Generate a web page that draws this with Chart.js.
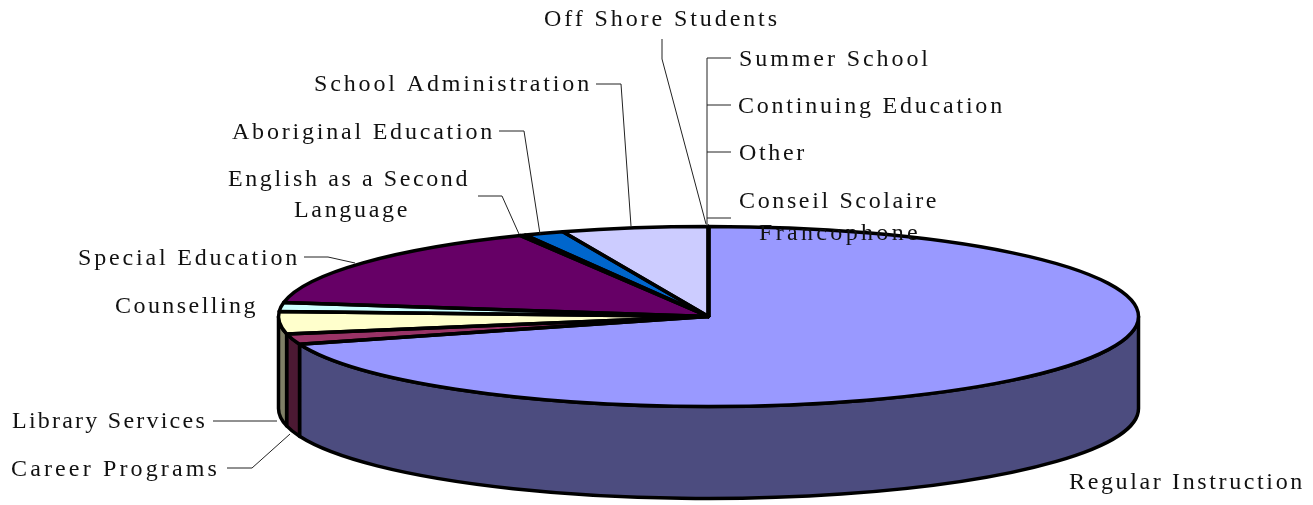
<!DOCTYPE html>
<html lang="en">
<head>
    <meta charset="UTF-8">
    <title>Expenditure by program</title>
    <script src="https://cdn.jsdelivr.net/npm/chart.js"></script>
    <style>
      body { margin: 0; background: #fff; }
      canvas { display: block; }
    </style>
</head>
<body>
    <canvas id="chart" width="1313" height="505"></canvas>
    <script>
    const categories = ['Regular Instruction', 'Career Programs', 'Library Services', 'Counselling',
      'Special Education', 'English as a Second Language', 'Aboriginal Education', 'School Administration',
      'Off Shore Students', 'Summer School', 'Continuing Education', 'Other', 'Conseil Scolaire Francophone'];
    const shares = [70.0, 1.9, 4.0, 1.6, 15.3, 0.2, 1.5, 5.5, 0, 0, 0, 0, 0];
    const topColors = ['#9999FF', '#993366', '#FFFFCC', '#CCFFFF', '#660066', '#FF8080', '#0066CC', '#CCCCFF',
      '#000080', '#FF00FF', '#FFFF00', '#00FFFF', '#800080'];
    const sideColors = ['#4C4C7F', '#4C1933', '#7F7F66', '#667F7F', '#330033', '#7F4040', '#003366', '#66667F',
      '#000040', '#7F007F', '#7F7F00', '#007F7F', '#400040'];

    // where the disc sits on the page
    const disc = { cx: 708.5, cy: 316.5, rx: 430, ry: 90, depth: 92 };

    // label text lines: x, baseline, width
    const labelLines = [
      ['Off Shore Students', 544, 26, 236],
      ['Summer School', 739, 66, 192],
      ['Continuing Education', 738, 113, 267],
      ['Other', 739, 160, 68],
      ['Conseil Scolaire', 739, 208, 200],
      ['Francophone', 759, 240, 162],
      ['School Administration', 314, 91, 278],
      ['Aboriginal Education', 232, 139, 263],
      ['English as a Second', 228, 186, 242],
      ['Language', 294, 217, 116],
      ['Special Education', 78, 265, 222],
      ['Counselling', 115, 313, 143],
      ['Library Services', 12, 428, 195],
      ['Career Programs', 11, 476, 209],
      ['Regular Instruction', 1069, 489, 236]
    ];
    const leaderLines = [
      [[662, 39], [662, 59], [706, 224]],
      [[731, 58], [707, 58], [707, 226]],
      [[731, 105], [707, 105]],
      [[731, 152], [707, 152]],
      [[731, 218], [707, 218]],
      [[596, 84], [621, 84], [631, 226]],
      [[499, 131], [524, 131], [540, 234]],
      [[478, 196], [502, 196], [519, 234]],
      [[304, 257], [328, 257], [355, 263]],
      [[213, 421], [277, 421]],
      [[227, 468], [252, 468], [290, 434]]
    ];

    function squash(ctx, el) {
      ctx.translate(disc.cx, disc.cy);
      ctx.scale(disc.rx / el.outerRadius, disc.ry / el.outerRadius);
      ctx.translate(-el.x, -el.y);
    }

    const disc3d = {
      id: 'disc3d',
      beforeDatasetsDraw(chart) {
        const ctx = chart.ctx;
        const arcs = chart.getDatasetMeta(0).data;

        // the wall, only the front half can be seen
        arcs.forEach((el, i) => {
          const a0 = Math.max(el.startAngle, 0);
          const a1 = Math.min(el.endAngle, Math.PI);
          if (a1 <= a0) return;
          const drop = disc.depth * el.outerRadius / disc.ry;
          ctx.save();
          squash(ctx, el);
          ctx.beginPath();
          ctx.arc(el.x, el.y, el.outerRadius, a0, a1);
          ctx.arc(el.x, el.y + drop, el.outerRadius, a1, a0, true);
          ctx.closePath();
          ctx.fillStyle = sideColors[i];
          ctx.fill();
          ctx.restore();
          ctx.strokeStyle = '#000';
          ctx.lineWidth = 3.5;
          ctx.lineJoin = 'round';
          ctx.stroke();
        });

        // the library draws the top of the disc inside this transform
        ctx.save();
        squash(ctx, arcs[0]);
      },
      afterDatasetsDraw(chart) {
        const ctx = chart.ctx;
        ctx.restore();

        // outlines stay even because they are stroked after the transform is gone
        chart.getDatasetMeta(0).data.forEach(el => {
          ctx.save();
          squash(ctx, el);
          ctx.beginPath();
          ctx.moveTo(el.x, el.y);
          ctx.arc(el.x, el.y, el.outerRadius, el.startAngle, el.endAngle);
          ctx.closePath();
          ctx.restore();
          ctx.strokeStyle = '#000';
          ctx.lineWidth = 3.5;
          ctx.lineJoin = 'round';
          ctx.stroke();
        });

        ctx.save();
        ctx.strokeStyle = '#222';
        ctx.lineWidth = 1;
        leaderLines.forEach(pts => {
          ctx.beginPath();
          pts.forEach((p, i) => i ? ctx.lineTo(p[0], p[1]) : ctx.moveTo(p[0], p[1]));
          ctx.stroke();
        });

        ctx.fillStyle = '#111';
        ctx.textBaseline = 'alphabetic';
        ctx.font = '24px "Liberation Serif"';
        labelLines.forEach(([text, x, y, w]) => {
          ctx.letterSpacing = '0px';
          const extra = (w - ctx.measureText(text).width) / text.length;
          ctx.letterSpacing = extra.toFixed(2) + 'px';
          ctx.fillText(text, x, y);
        });
        ctx.restore();
      }
    };

    new Chart(document.getElementById('chart'), {
      type: 'pie',
      data: {
        labels: categories,
        datasets: [{
          data: shares,
          backgroundColor: topColors,
          borderWidth: 0
        }]
      },
      options: {
        responsive: false,
        animation: false,
        plugins: {
          legend: { display: false },
          tooltip: { enabled: false }
        }
      },
      plugins: [disc3d]
    });
    </script>
</body>
</html>
